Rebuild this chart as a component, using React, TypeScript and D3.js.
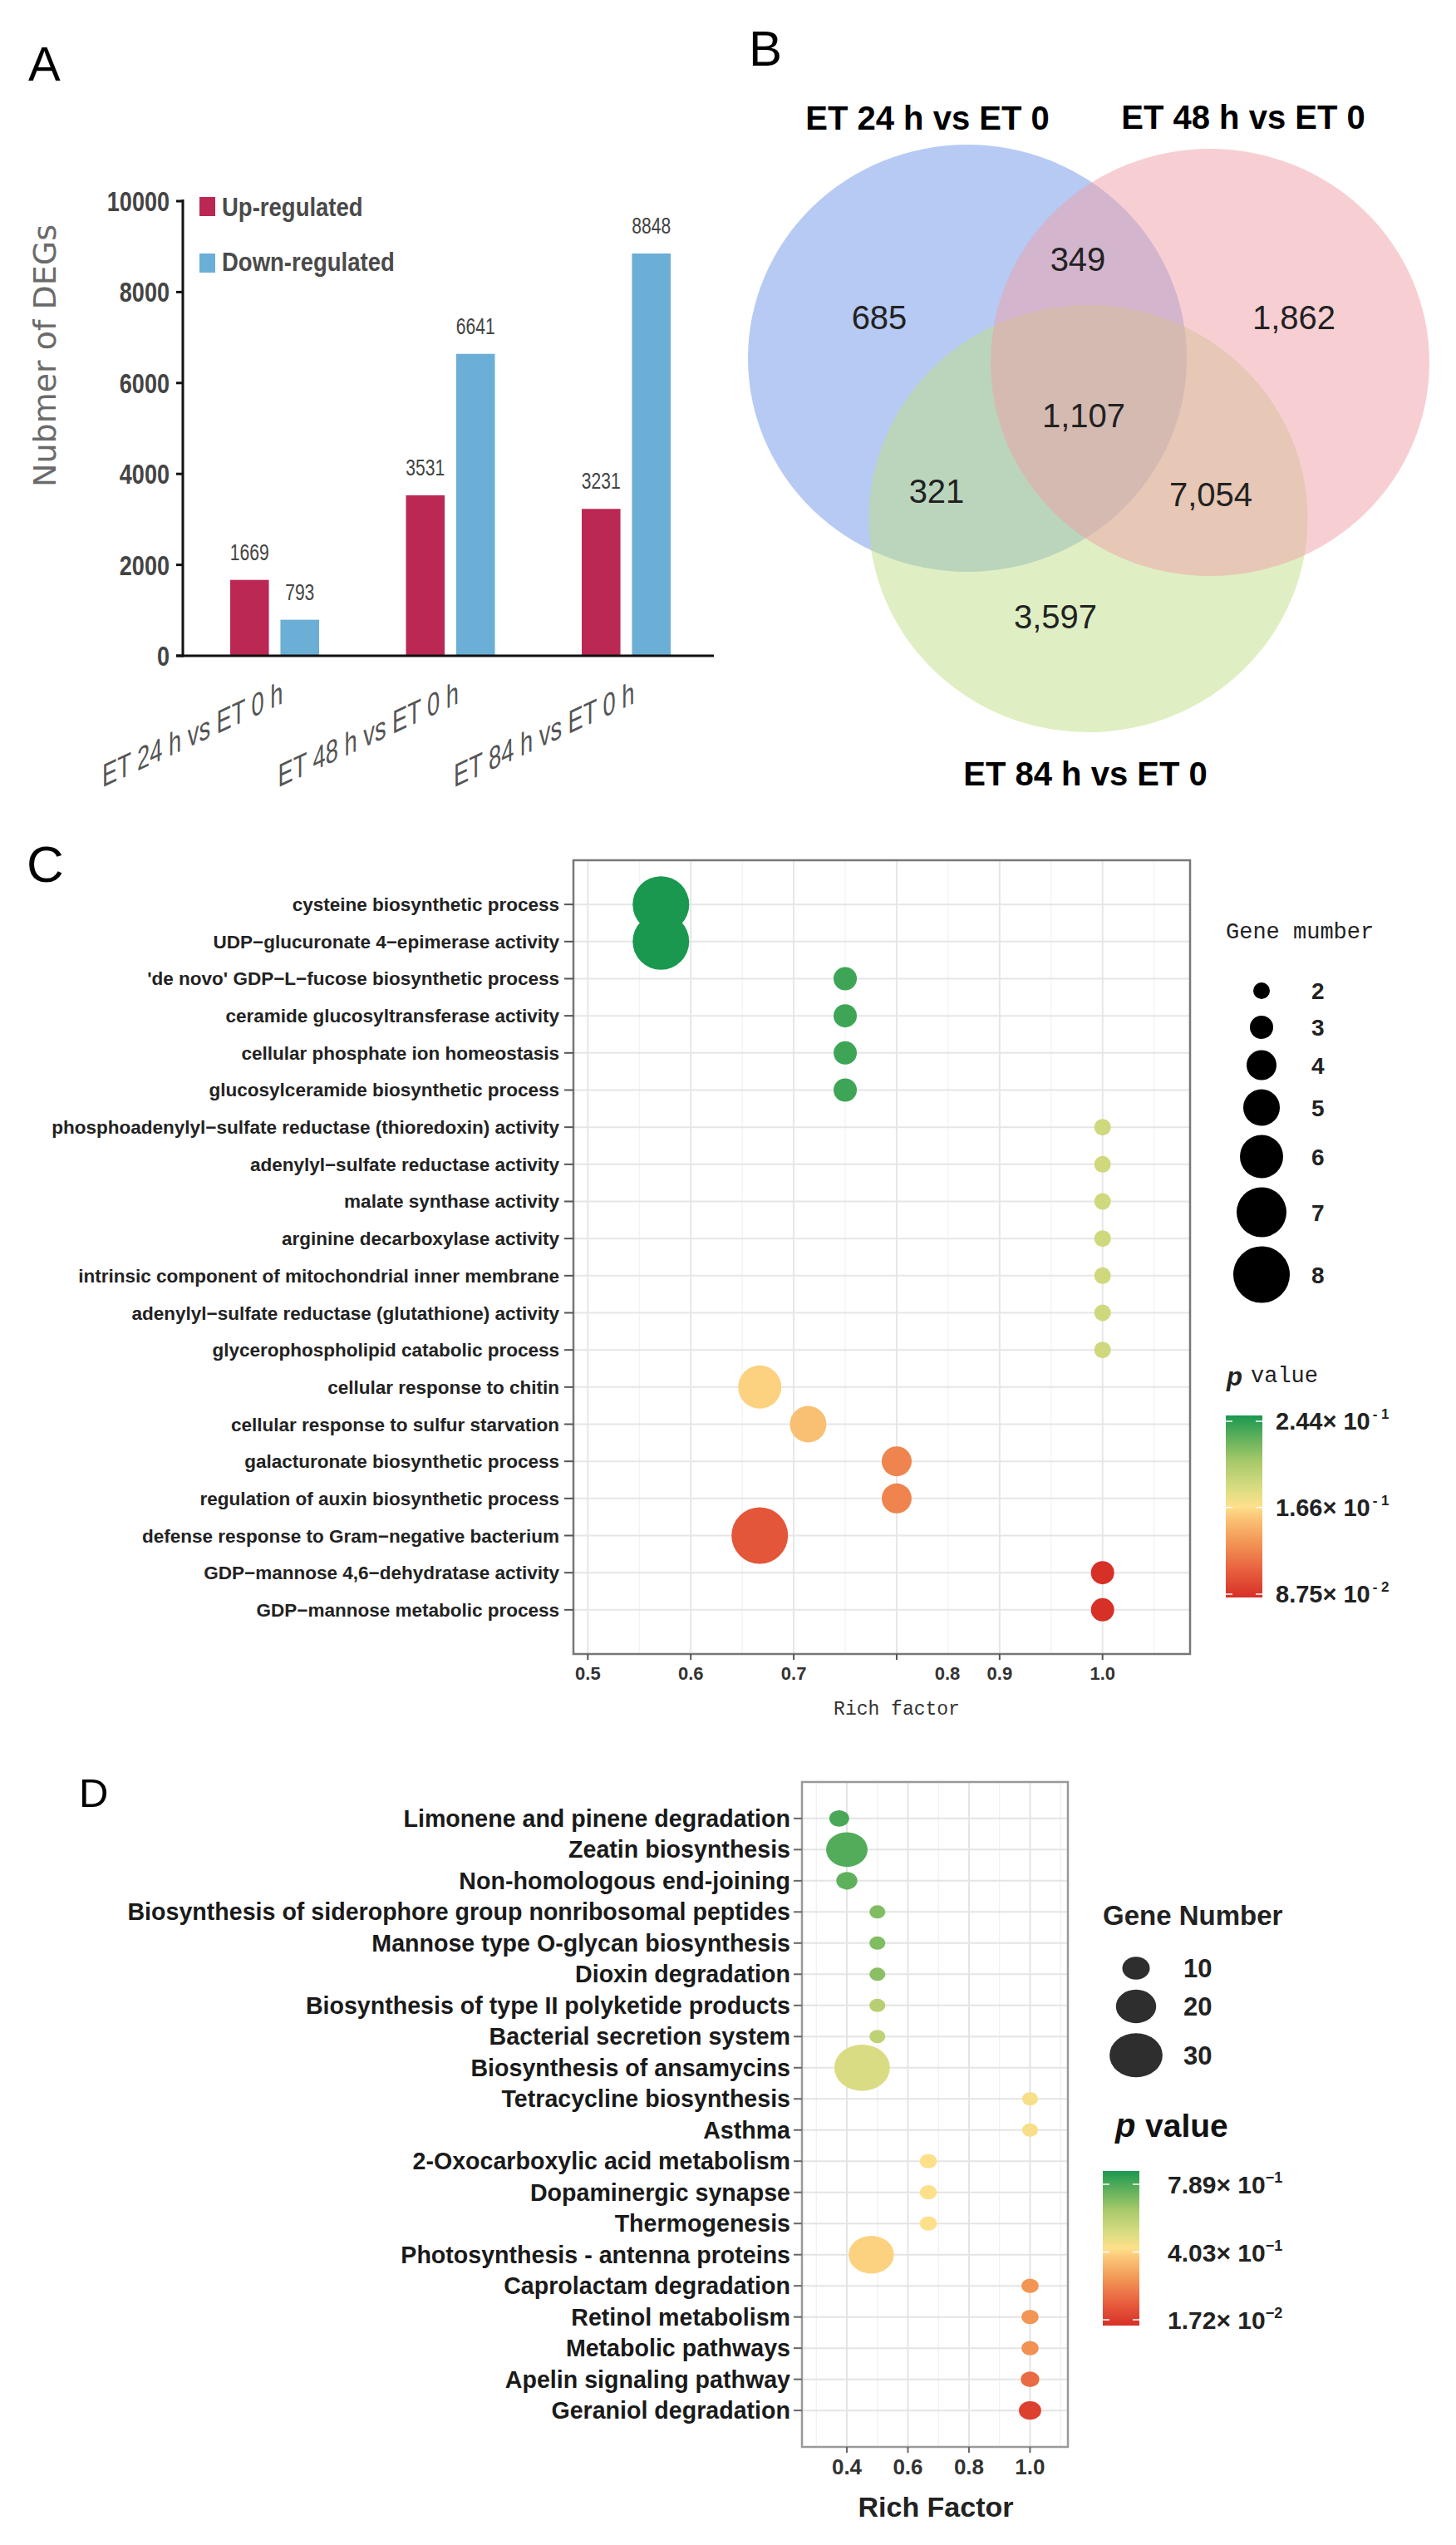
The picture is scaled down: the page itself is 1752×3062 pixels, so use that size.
import React from 'react';
import * as d3 from 'd3';

// ---------------- Panel A data ----------------
const degGroups = ['ET 24 h vs ET 0 h', 'ET 48 h vs ET 0 h', 'ET 84 h vs ET 0 h'];
const degSeries = ['Up-regulated', 'Down-regulated'];
const upValues = [1669, 3531, 3231];
const downValues = [793, 6641, 8848];
const degTicks = [0, 2000, 4000, 6000, 8000, 10000];

// ---------------- Panel B data ----------------
const vennSets = ['ET 24 h vs ET 0', 'ET 48 h vs ET 0', 'ET 84 h vs ET 0'];
const vennRegions = ['24 only', '24&48', '48 only', 'all', '24&84', '48&84', '84 only'];
const vennCounts = [685, 349, 1862, 1107, 321, 7054, 3597];

// ---------------- Panel C data ----------------
const goTerms = [
  'cysteine biosynthetic process',
  'UDP\u2212glucuronate 4\u2212epimerase activity',
  "'de novo' GDP\u2212L\u2212fucose biosynthetic process",
  'ceramide glucosyltransferase activity',
  'cellular phosphate ion homeostasis',
  'glucosylceramide biosynthetic process',
  'phosphoadenylyl\u2212sulfate reductase (thioredoxin) activity',
  'adenylyl\u2212sulfate reductase activity',
  'malate synthase activity',
  'arginine decarboxylase activity',
  'intrinsic component of mitochondrial inner membrane',
  'adenylyl\u2212sulfate reductase (glutathione) activity',
  'glycerophospholipid catabolic process',
  'cellular response to chitin',
  'cellular response to sulfur starvation',
  'galacturonate biosynthetic process',
  'regulation of auxin biosynthetic process',
  'defense response to Gram\u2212negative bacterium',
  'GDP\u2212mannose 4,6\u2212dehydratase activity',
  'GDP\u2212mannose metabolic process',
];
const goRich = [0.571, 0.571, 0.75, 0.75, 0.75, 0.75, 1, 1, 1, 1, 1, 1, 1, 0.667, 0.714, 0.8, 0.8, 0.667, 1, 1];
const goGenes = [8, 8, 3, 3, 3, 3, 2, 2, 2, 2, 2, 2, 2, 6, 5, 4, 4, 8, 3, 3];
const goP = [0.244, 0.244, 0.234, 0.234, 0.234, 0.234, 0.186, 0.186, 0.186, 0.186, 0.186, 0.186, 0.186,
  0.161, 0.154, 0.127, 0.127, 0.106, 0.0875, 0.0875];
const goRichTicks = [0.5, 0.6, 0.7, 0.8, 0.9, 1.0];
const goRichTickLabels = ['0.5', '0.6', '0.7', '0.8', '0.9', '1.0'];
const goSizeTicks = [2, 3, 4, 5, 6, 7, 8];
const goPTicks = [0.244, 0.166, 0.0875];

// ---------------- Panel D data ----------------
const keggTerms = [
  'Limonene and pinene degradation',
  'Zeatin biosynthesis',
  'Non-homologous end-joining',
  'Biosynthesis of siderophore group nonribosomal peptides',
  'Mannose type O-glycan biosynthesis',
  'Dioxin degradation',
  'Biosynthesis of type II polyketide products',
  'Bacterial secretion system',
  'Biosynthesis of ansamycins',
  'Tetracycline biosynthesis',
  'Asthma',
  '2-Oxocarboxylic acid metabolism',
  'Dopaminergic synapse',
  'Thermogenesis',
  'Photosynthesis - antenna proteins',
  'Caprolactam degradation',
  'Retinol metabolism',
  'Metabolic pathways',
  'Apelin signaling pathway',
  'Geraniol degradation',
];
const keggRich = [0.375, 0.4, 0.4, 0.5, 0.5, 0.5, 0.5, 0.5, 0.45, 1, 1, 0.667, 0.667, 0.667, 0.48, 1, 1, 1, 1, 1];
const keggGenes = [4, 21, 5, 1, 1, 1, 1, 1, 32, 1, 1, 2, 2, 2, 24, 2, 2, 2, 3, 6];
const keggP = [0.727, 0.712, 0.696, 0.65, 0.65, 0.635, 0.557, 0.542, 0.48, 0.418, 0.418, 0.403, 0.403, 0.403,
  0.38, 0.249, 0.249, 0.241, 0.156, 0.056];
const keggRichTicks = [0.4, 0.6, 0.8, 1.0];
const keggSizeTicks = [10, 20, 30];
const keggPTicks = [0.789, 0.403, 0.0172];

// ---------------- shared colour ramp ----------------
const rampStops: [number, string][] = [
  [0, '#D73027'], [0.15, '#E8603F'], [0.3, '#F29555'], [0.45, '#FBC97A'], [0.5, '#FEE08B'],
  [0.6, '#D9DC82'], [0.75, '#A6C96A'], [0.88, '#5FB05C'], [1, '#1A9850'],
];
const ramp = d3.scaleLinear<string>().domain(rampStops.map(s => s[0])).range(rampStops.map(s => s[1]))
  .interpolate(d3.interpolateRgb).clamp(true);

const SANS = 'Liberation Sans, Arial, sans-serif';
const MONO = 'Liberation Mono, Courier New, monospace';
const DEJAVU = 'DejaVu Sans, sans-serif';

function sciParts(v: number) {
  const e = Math.floor(Math.log10(v));
  const m = v / Math.pow(10, e);
  return { m: m.toFixed(2), e: String(e) };
}

function PanelA() {
  const x = d3.scaleBand().domain(degGroups).range([224.75, 859.25]).padding(0);
  const sub = d3.scaleBand().domain(degSeries).range([0, 107]).paddingInner(0.23);
  const y = d3.scaleLinear().domain([0, 10000]).range([789, 242]);
  const colors: Record<string, string> = { 'Up-regulated': '#BA2853', 'Down-regulated': '#6BAED6' };
  const groupOffset = (x.bandwidth() - 107) / 2;
  const series = [upValues, downValues];
  return (
    <g>
      <text x={34} y={97} fontFamily={SANS} fontSize={58}>A</text>
      {degGroups.map((g, gi) => series.map((vals, si) => {
        const s = degSeries[si];
        const bx = (x(g) as number) + groupOffset + (sub(s) as number);
        const v = vals[gi];
        return (
          <g key={g + s}>
            <rect x={bx} y={y(v)} width={sub.bandwidth()} height={y(0) - y(v)} fill={colors[s]} />
            <text transform={`translate(${bx + sub.bandwidth() / 2},${y(v) - 24}) scale(0.78,1)`}
              textAnchor="middle" fontFamily={SANS} fontSize={27} fill="#444">{v}</text>
          </g>
        );
      }))}
      <line x1={220} x2={220} y1={240} y2={790.5} stroke="#111" strokeWidth={3} />
      <line x1={212} x2={859} y1={789} y2={789} stroke="#111" strokeWidth={3} />
      {degTicks.map(t => (
        <g key={t}>
          <line x1={212} x2={220} y1={y(t)} y2={y(t)} stroke="#111" strokeWidth={3} />
          <text transform={`translate(204,${y(t) + 12}) scale(0.82,1)`} textAnchor="end"
            fontFamily={SANS} fontWeight="bold" fontSize={33} fill="#444">{t}</text>
        </g>
      ))}
      <text transform="translate(67,428) rotate(-90)" textAnchor="middle" fontFamily={DEJAVU}
        fontSize={38} fill="#6a6a6a">Nubmer of DEGs</text>
      {degSeries.map((s, i) => (
        <g key={s}>
          <rect x={240} y={237 + i * 68} width={19} height={23} fill={colors[s]} />
          <text transform={`translate(267,${260 + i * 66}) scale(0.86,1)`} fontFamily={SANS}
            fontWeight="bold" fontSize={32} fill="#4a4a4a">{s}</text>
        </g>
      ))}
      {degGroups.map(g => {
        const cx = (x(g) as number) + x.bandwidth() / 2;
        return (
          <text key={g} transform={`translate(${cx + 10},846) skewY(-25) scale(0.7,1)`} textAnchor="end"
            fontFamily={SANS} fontSize={39} fill="#555">{g}</text>
        );
      })}
    </g>
  );
}

function PanelB() {
  const circles = [
    { cx: 1164, cy: 431, fill: '#6E96E8' },
    { cx: 1456, cy: 436, fill: '#F0A0A8' },
    { cx: 1309.5, cy: 624, fill: '#C0E088' },
  ];
  const drawOrder = [0, 2, 1];
  const titlePos = [{ x: 1116, y: 156 }, { x: 1496, y: 155 }, { x: 1306, y: 945 }];
  const labelPos: Record<string, { x: number; y: number }> = {
    '24 only': { x: 1058, y: 382 }, '24&48': { x: 1297, y: 312 }, '48 only': { x: 1557, y: 382 },
    'all': { x: 1304, y: 500 }, '24&84': { x: 1127, y: 591 }, '48&84': { x: 1457, y: 595 },
    '84 only': { x: 1270, y: 742 },
  };
  const fmt = d3.format(',');
  return (
    <g>
      <text x={901} y={79} fontFamily={SANS} fontSize={60}>B</text>
      {drawOrder.map(i => (
        <ellipse key={i} cx={circles[i].cx} cy={circles[i].cy} rx={264} ry={257}
          fill={circles[i].fill} fillOpacity={0.5} />
      ))}
      {vennSets.map((s, i) => (
        <text key={s} x={titlePos[i].x} y={titlePos[i].y} textAnchor="middle" fontFamily={SANS}
          fontWeight="bold" fontSize={40} fill="#000">{s}</text>
      ))}
      {vennRegions.map((r, i) => (
        <text key={r} x={labelPos[r].x} y={labelPos[r].y + 14} textAnchor="middle" fontFamily={SANS}
          fontSize={40} fill="#222">{fmt(vennCounts[i])}</text>
      ))}
    </g>
  );
}

function PanelC() {
  const L = 690, R = 1432, T = 1035, B = 1990;
  const x = d3.scaleLinear().domain([0.486, 1.085]).range([L, R]);
  const y = d3.scalePoint().domain(goTerms).range([T, B]).padding(1.19);
  const r = d3.scaleLinear().domain([2, 8]).range([10, 34]);
  const tOf = d3.scaleLinear().domain([0.0875, 0.166, 0.244]).range([0, 0.5, 1]).clamp(true);
  const color = (p: number) => ramp(tOf(p));
  const minor = d3.range(0.55, 1.08, 0.1);
  const labelShift: Record<string, number> = { '0.8': 61 };
  const keyH = goSizeTicks.map(n => Math.max(44, 2 * r(n) + 11));
  const keyY: number[] = [];
  goSizeTicks.forEach((n, i) => {
    keyY.push(i === 0 ? 1192 : keyY[i - 1] + (keyH[i - 1] + keyH[i]) / 2);
  });
  const cb = d3.scaleLinear().domain([0.0875, 0.244]).range([1918, 1710]);
  return (
    <g>
      <text x={32} y={1061} fontFamily={SANS} fontSize={62}>C</text>
      <rect x={L} y={T} width={R - L} height={B - T} fill="#fff" />
      {minor.map(v => <line key={'m' + v} x1={x(v)} x2={x(v)} y1={T} y2={B} stroke="#F2F2F2" strokeWidth={1.2} />)}
      {goRichTicks.map(v => <line key={'M' + v} x1={x(v)} x2={x(v)} y1={T} y2={B} stroke="#E6E6E6" strokeWidth={2} />)}
      {goTerms.map(t => <line key={'h' + t} x1={L} x2={R} y1={y(t)} y2={y(t)} stroke="#E6E6E6" strokeWidth={2} />)}
      {goTerms.map((t, i) => (
        <circle key={'c' + t} cx={x(goRich[i])} cy={y(t)} r={r(goGenes[i])} fill={color(goP[i])} />
      ))}
      <rect x={L} y={T} width={R - L} height={B - T} fill="none" stroke="#777" strokeWidth={2.5} />
      {goTerms.map(t => (
        <g key={'l' + t}>
          <line x1={679} x2={L} y1={y(t)} y2={y(t)} stroke="#555" strokeWidth={2} />
          <text x={673} y={(y(t) as number) + 8} textAnchor="end" fontFamily={SANS} fontWeight="bold"
            fontSize={22.5} fill="#222">{t}</text>
        </g>
      ))}
      {goRichTicks.map((v, i) => (
        <g key={'xt' + v}>
          <line x1={x(v)} x2={x(v)} y1={B} y2={B + 7} stroke="#555" strokeWidth={2} />
          <text x={x(v) + (labelShift[goRichTickLabels[i]] || 0)} y={2021} textAnchor="middle"
            fontFamily={SANS} fontWeight="bold" fontSize={22} fill="#333">{goRichTickLabels[i]}</text>
        </g>
      ))}
      <text x={1079} y={2063} textAnchor="middle" fontFamily={MONO} fontSize={23} fill="#333">Rich factor</text>
      <text x={1475} y={1129} fontFamily={MONO} fontSize={27} fill="#222">Gene mumber</text>
      {goSizeTicks.map((n, i) => (
        <g key={'s' + n}>
          <circle cx={1518} cy={keyY[i]} r={r(n)} fill="#000" />
          <text x={1578} y={keyY[i] + 10} fontFamily={SANS} fontWeight="bold" fontSize={28} fill="#222">{n}</text>
        </g>
      ))}
      <text x={1476} y={1667} fontFamily={SANS} fontWeight="bold" fontStyle="italic" fontSize={31} fill="#222">p</text>
      <text x={1505} y={1663} fontFamily={MONO} fontSize={27} fill="#222">value</text>
      <rect x={1475} y={1703} width={44} height={219} fill="url(#rampGrad)" />
      {goPTicks.map(p => {
        const s = sciParts(p);
        return (
          <g key={'p' + p}>
            <line x1={1475} x2={1483} y1={cb(p)} y2={cb(p)} stroke="#fff" strokeWidth={1.5} />
            <line x1={1511} x2={1519} y1={cb(p)} y2={cb(p)} stroke="#fff" strokeWidth={1.5} />
            <text x={1535} y={cb(p) + 10} fontFamily={SANS} fontWeight="bold" fontSize={29} fill="#222">
              {s.m}{'\u00d7 10'}
              <tspan fontSize={17} dy={-13} dx={3}>{s.e.replace('-', '- ')}</tspan>
            </text>
          </g>
        );
      })}
    </g>
  );
}

function PanelD() {
  const L = 965, R = 1285, T = 2144, B = 2944;
  const x = d3.scaleLinear().domain([0.253, 1.124]).range([L, R]);
  const y = d3.scalePoint().domain(keggTerms).range([T, B]).padding(1.17);
  const ry = d3.scaleLinear().domain([1, 30]).range([8, 26.6]);
  const aspect = 1.2;
  const tOf = d3.scaleLinear().domain([0.0172, 0.403, 0.789]).range([0, 0.5, 1]).clamp(true);
  const color = (p: number) => ramp(tOf(p));
  const minor = [0.3, 0.5, 0.7, 0.9, 1.1];
  const keyH = keggSizeTicks.map(n => 2 * ry(n) + 12);
  const keyY: number[] = [];
  keggSizeTicks.forEach((n, i) => {
    keyY.push(i === 0 ? 2368 : keyY[i - 1] + (keyH[i - 1] + keyH[i]) / 2);
  });
  const cb = d3.scaleLinear().domain([0.0172, 0.789]).range([2791, 2628]);
  return (
    <g>
      <text x={95} y={2174} fontFamily={SANS} fontSize={49}>D</text>
      <rect x={L} y={T} width={R - L} height={B - T} fill="#fff" />
      {minor.map(v => <line key={'m' + v} x1={x(v)} x2={x(v)} y1={T} y2={B} stroke="#F0F0F0" strokeWidth={1.2} />)}
      {keggRichTicks.map(v => <line key={'M' + v} x1={x(v)} x2={x(v)} y1={T} y2={B} stroke="#E4E4E4" strokeWidth={2} />)}
      {keggTerms.map(t => <line key={'h' + t} x1={L} x2={R} y1={y(t)} y2={y(t)} stroke="#E4E4E4" strokeWidth={2} />)}
      {keggTerms.map((t, i) => (
        <ellipse key={'c' + t} cx={x(keggRich[i])} cy={y(t)} ry={ry(keggGenes[i])}
          rx={ry(keggGenes[i]) * aspect} fill={color(keggP[i])} />
      ))}
      <rect x={L} y={T} width={R - L} height={B - T} fill="none" stroke="#999" strokeWidth={2.5} />
      {keggTerms.map(t => (
        <g key={'l' + t}>
          <line x1={955} x2={L} y1={y(t)} y2={y(t)} stroke="#666" strokeWidth={2} />
          <text x={951} y={(y(t) as number) + 10} textAnchor="end" fontFamily={SANS} fontWeight="bold"
            fontSize={28.6} fill="#1a1a1a">{t}</text>
        </g>
      ))}
      {keggRichTicks.map(v => (
        <g key={'xt' + v}>
          <line x1={x(v)} x2={x(v)} y1={B} y2={B + 7} stroke="#666" strokeWidth={2} />
          <text x={x(v)} y={2977} textAnchor="middle" fontFamily={SANS} fontWeight="bold" fontSize={26}
            fill="#333">{v.toFixed(1)}</text>
        </g>
      ))}
      <text x={1126} y={3028} textAnchor="middle" fontFamily={SANS} fontWeight="bold" fontSize={34}
        fill="#222">Rich Factor</text>
      <text x={1327} y={2316} fontFamily={SANS} fontWeight="bold" fontSize={33} fill="#222">Gene Number</text>
      {keggSizeTicks.map((n, i) => (
        <g key={'s' + n}>
          <ellipse cx={1367} cy={keyY[i]} ry={ry(n)} rx={ry(n) * aspect} fill="#2e2e2e" />
          <text x={1424} y={keyY[i] + 11} fontFamily={SANS} fontWeight="bold" fontSize={31} fill="#222">{n}</text>
        </g>
      ))}
      <text x={1342} y={2571} fontFamily={SANS} fontWeight="bold" fontStyle="italic" fontSize={40} fill="#111">p</text>
      <text x={1378} y={2571} fontFamily={SANS} fontWeight="bold" fontSize={39} fill="#111">value</text>
      <rect x={1327} y={2612} width={44} height={186} fill="url(#rampGrad)" />
      {keggPTicks.map(p => {
        const s = sciParts(p);
        return (
          <g key={'p' + p}>
            <line x1={1327} x2={1335} y1={cb(p)} y2={cb(p)} stroke="#fff" strokeWidth={1.5} />
            <line x1={1363} x2={1371} y1={cb(p)} y2={cb(p)} stroke="#fff" strokeWidth={1.5} />
            <text x={1405} y={cb(p) + 11} fontFamily={SANS} fontWeight="bold" fontSize={30} fill="#222">
              {s.m}{'\u00d7 10'}
              <tspan fontSize={18} dy={-13}>{s.e.replace('-', '\u2212')}</tspan>
            </text>
          </g>
        );
      })}
    </g>
  );
}

export default function App() {
  return (
    <svg width={1752} height={3062} viewBox="0 0 1752 3062"
      style={{ position: 'absolute', left: 0, top: 0, background: '#fff', display: 'block' }}>
      <defs>
        <linearGradient id="rampGrad" x1="0" y1="1" x2="0" y2="0">
          {rampStops.map(s => <stop key={s[0]} offset={s[0]} stopColor={s[1]} />)}
        </linearGradient>
      </defs>
      <rect x={0} y={0} width={1752} height={3062} fill="#fff" />
      <PanelA />
      <PanelB />
      <PanelC />
      <PanelD />
    </svg>
  );
}
